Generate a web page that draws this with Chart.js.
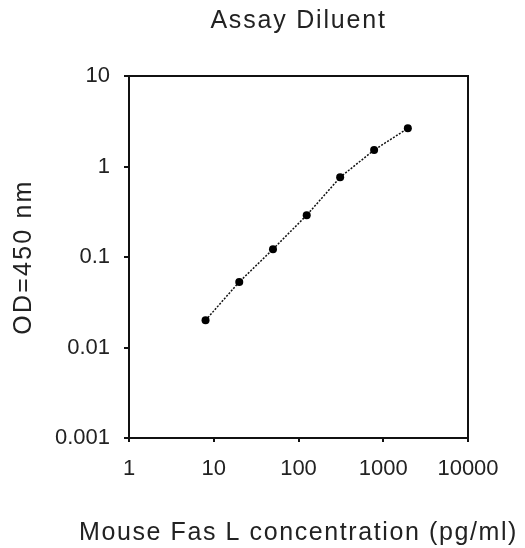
<!DOCTYPE html>
<html>
<head>
<meta charset="utf-8">
<script src="https://cdn.jsdelivr.net/npm/chart.js@4"></script>
<style>
  html, body { margin: 0; padding: 0; background: #fff; }
  #wrap { width: 525px; height: 548px; }
</style>
</head>
<body>
<div id="wrap"><canvas id="odChart" width="525" height="548"></canvas></div>
<script>
/* === DATA === */
const concentrations = [8, 20, 50, 125, 310, 780, 1950];
const odValues = [0.020, 0.053, 0.122, 0.29, 0.76, 1.52, 2.64];
const xTicks = [1, 10, 100, 1000, 10000];
const yTicks = [0.001, 0.01, 0.1, 1, 10];

const chartTitle = "Assay Diluent";
const xTitle = "Mouse Fas L concentration (pg/ml)";
const yTitle = "OD=450 nm";

const points = concentrations.map((c, i) => ({ x: c, y: odValues[i] }));

const fontFamily = "'Liberation Sans', Arial, sans-serif";
const textColor = "#222";

// kotak di sekeliling area plot (atas & kanan)
const framePlugin = {
  id: "frame",
  afterDraw(chart) {
    const a = chart.chartArea;
    const ctx = chart.ctx;
    ctx.save();
    ctx.strokeStyle = "#111";
    ctx.lineWidth = 2;
    ctx.strokeRect(a.left, a.top, a.right - a.left, a.bottom - a.top);
    ctx.restore();
  }
};

// judul & label sumbu digambar sendiri supaya bisa pakai letterSpacing
const titlesPlugin = {
  id: "titles",
  afterDraw(chart) {
    const a = chart.chartArea;
    const ctx = chart.ctx;
    const cx = (a.left + a.right) / 2;
    const cy = (a.top + a.bottom) / 2;
    ctx.save();
    ctx.fillStyle = textColor;
    ctx.textAlign = "center";
    ctx.textBaseline = "middle";
    ctx.font = "25px " + fontFamily;

    ctx.letterSpacing = "1.8px";
    ctx.fillText(chartTitle, cx, 21);

    ctx.letterSpacing = "1.6px";
    ctx.fillText(xTitle, cx, 533);

    ctx.letterSpacing = "2.2px";
    ctx.translate(24, cy);
    ctx.rotate(-Math.PI / 2);
    ctx.fillText(yTitle, 0, 0);
    ctx.restore();
  }
};

/* === CHART === */
const ctx = document.getElementById("odChart").getContext("2d");
new Chart(ctx, {
  type: "scatter",
  data: {
    datasets: [{
      data: points,
      showLine: true,
      borderColor: "#111",
      borderWidth: 1.5,
      borderDash: [2, 1.5],
      backgroundColor: "#000",
      pointRadius: 4,
      pointHoverRadius: 4,
      pointBorderWidth: 0
    }]
  },
  options: {
    responsive: false,
    animation: false,
    layout: { padding: { left: 0, right: 57, top: 76, bottom: 0 } },
    plugins: {
      legend: { display: false },
      tooltip: { enabled: false },
      title: { display: false }
    },
    scales: {
      x: {
        type: "logarithmic",
        min: 1,
        max: 10000,
        afterBuildTicks: s => { s.ticks = xTicks.map(v => ({ value: v })); },
        afterFit: s => { s.height = 110; },
        ticks: {
          color: textColor,
          font: { family: fontFamily, size: 22 },
          padding: 14,
          maxRotation: 0,
          callback: v => String(v)
        },
        grid: { drawOnChartArea: false, drawTicks: true, tickLength: 4, color: "#111", lineWidth: 2 },
        border: { display: true, color: "#111", width: 2 }
      },
      y: {
        type: "logarithmic",
        min: 0.001,
        max: 10,
        afterBuildTicks: s => { s.ticks = yTicks.map(v => ({ value: v })); },
        afterFit: s => { s.width = 129; },
        ticks: {
          color: textColor,
          font: { family: fontFamily, size: 22 },
          padding: 14,
          callback: v => String(v)
        },
        grid: { drawOnChartArea: false, drawTicks: true, tickLength: 5, color: "#111", lineWidth: 2 },
        border: { display: true, color: "#111", width: 2 }
      }
    }
  },
  plugins: [framePlugin, titlesPlugin]
});
</script>
</body>
</html>
